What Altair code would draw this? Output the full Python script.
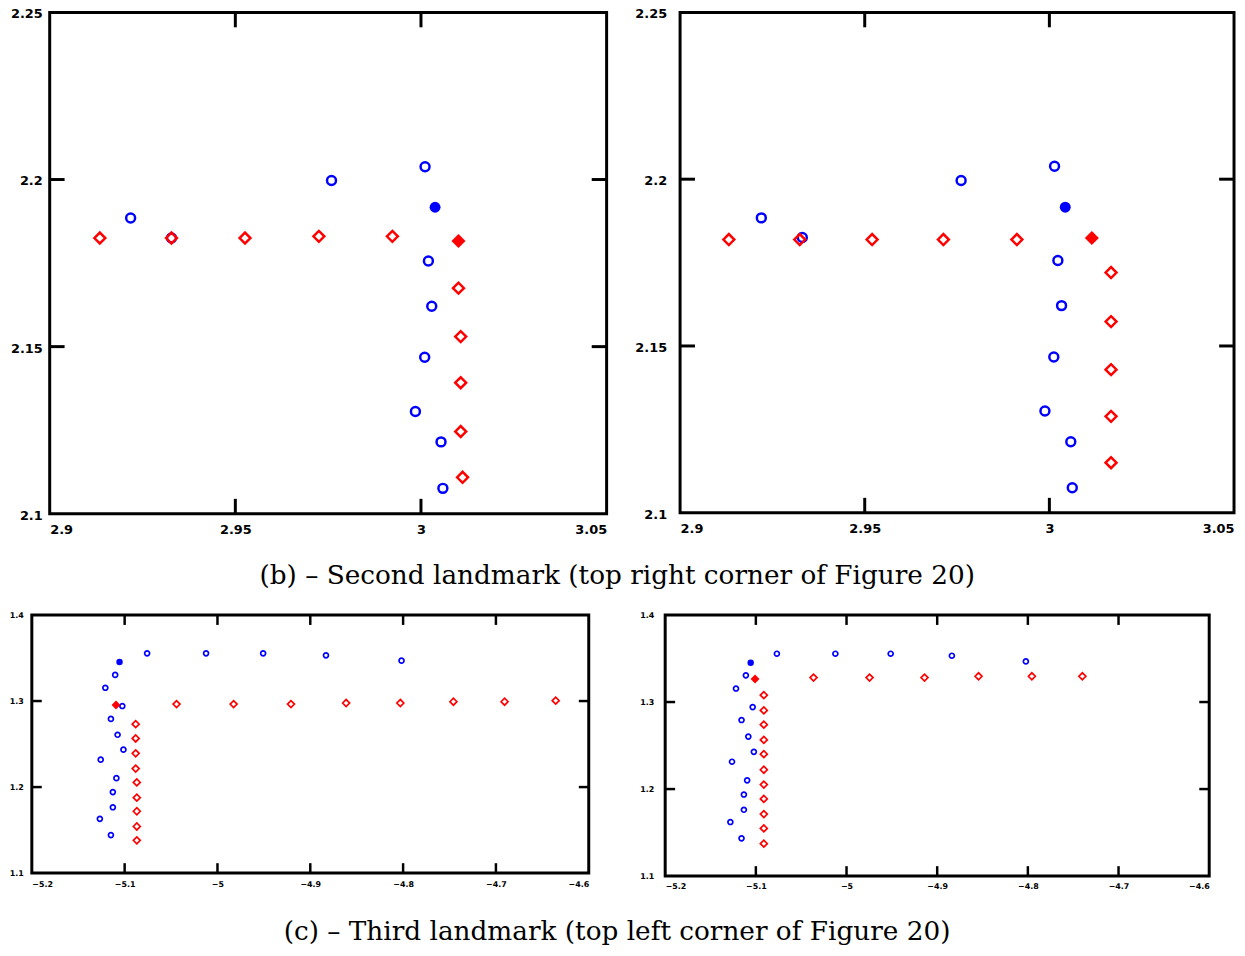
import altair as alt
import pandas as pd

# ---------------- data ----------------
# first point of each series is the filled (highlighted) marker
p1_blue_x = [3.0038, 2.9218, 2.9328, 2.9759, 3.0011, 3.0020, 3.0029, 3.0010, 2.9985, 3.0054, 3.0059]
p1_blue_y = [2.1917, 2.1885, 2.1825, 2.1997, 2.2038, 2.1756, 2.1621, 2.1468, 2.1306, 2.1215, 2.1076]
p1_red_x = [3.0101, 2.9135, 2.9328, 2.9526, 2.9725, 2.9923, 3.0101, 3.0107, 3.0107, 3.0107, 3.0112]
p1_red_y = [2.1816, 2.1825, 2.1825, 2.1825, 2.1830, 2.1830, 2.1675, 2.1530, 2.1392, 2.1246, 2.1109]

p2_blue_x = [3.0043, 2.9220, 2.9331, 2.9761, 3.0014, 3.0023, 3.0033, 3.0012, 2.9988, 3.0058, 3.0062]
p2_blue_y = [2.1916, 2.1884, 2.1825, 2.1996, 2.2039, 2.1756, 2.1621, 2.1467, 2.1305, 2.1213, 2.1075]
p2_red_x = [3.0115, 2.9132, 2.9324, 2.9520, 2.9713, 2.9912, 3.0167, 3.0167, 3.0167, 3.0167, 3.0167]
p2_red_y = [2.1824, 2.1819, 2.1819, 2.1819, 2.1819, 2.1819, 2.1720, 2.1573, 2.1429, 2.1289, 2.1150]

p3_blue_x = [-5.1055, -5.0758, -5.0123, -4.9508, -4.8831, -4.8017, -5.1102, -5.1208, -5.1025,
             -5.1148, -5.1076, -5.1013, -5.1258, -5.1089, -5.1127, -5.1127, -5.1267, -5.1148]
p3_blue_y = [1.3454, 1.3554, 1.3554, 1.3554, 1.3531, 1.3469, 1.3304, 1.3154, 1.2942,
             1.2792, 1.2608, 1.2435, 1.2319, 1.2104, 1.1942, 1.1765, 1.1631, 1.1442]
p3_red_x = [-5.1093, -5.0441, -4.9826, -4.9208, -4.8614, -4.8030, -4.7458, -4.6907, -4.6356,
            -5.0881, -5.0881, -5.0881, -5.0881, -5.0869, -5.0869, -5.0869, -5.0869, -5.0869]
p3_red_y = [1.2954, 1.2965, 1.2965, 1.2965, 1.2977, 1.2977, 1.2992, 1.2992, 1.3004,
            1.2731, 1.2565, 1.2392, 1.2215, 1.2054, 1.1877, 1.1719, 1.1542, 1.1381]

p4_blue_x = [-5.1057, -5.0768, -5.0123, -4.9513, -4.8838, -4.8022, -5.1110, -5.1219, -5.1035,
             -5.1158, -5.1083, -5.1022, -5.1263, -5.1096, -5.1132, -5.1132, -5.1281, -5.1158]
p4_blue_y = [1.3452, 1.3555, 1.3555, 1.3555, 1.3532, 1.3467, 1.3307, 1.3155, 1.2942,
             1.2793, 1.2603, 1.2428, 1.2314, 1.2100, 1.1937, 1.1762, 1.1621, 1.1434]
p4_red_x = [-5.1009, -5.0364, -4.9746, -4.9140, -4.8544, -4.7956, -4.7399,
            -5.0912, -5.0912, -5.0912, -5.0912, -5.0912, -5.0912, -5.0912, -5.0912, -5.0912, -5.0912,
            -5.0912]
p4_red_y = [1.3265, 1.3281, 1.3281, 1.3281, 1.3296, 1.3296, 1.3296,
            1.3079, 1.2904, 1.2740, 1.2565, 1.2401, 1.2222, 1.2051, 1.1887, 1.1712, 1.1548, 1.1373]

b_x_ticks = [2.9, 2.95, 3.0, 3.05]
b_y_ticks = [2.1, 2.15, 2.2, 2.25]
c_x_ticks = [-5.2, -5.1, -5.0, -4.9, -4.8, -4.7, -4.6]
c_y_ticks = [1.1, 1.2, 1.3, 1.4]

caption_b = "(b) \u2013 Second landmark (top right corner of Figure 20)"
caption_c = "(c) \u2013 Third landmark (top left corner of Figure 20)"

BLUE = "#0000ff"
RED = "#ff0000"
LABEL_FONT = "DejaVu Sans"
CAPTION_FONT = "DejaVu Serif"


def series_df(xs, ys):
    kinds = ["filled"] + ["open"] * (len(xs) - 1)
    return pd.DataFrame({"x": xs, "y": ys, "kind": kinds})


def scales(x_ticks, y_ticks):
    xs = alt.Scale(domain=[x_ticks[0], x_ticks[-1]], nice=False, zero=False)
    ys = alt.Scale(domain=[y_ticks[0], y_ticks[-1]], nice=False, zero=False)
    return xs, ys


def y_labels(y_ticks, w, h, big, pad):
    """Narrow view holding the y tick labels of the panel to its right."""
    _, ys = scales([0, 1], y_ticks)
    fs = 13 if big else 8
    return alt.Chart(pd.DataFrame({"v": y_ticks})).mark_text(
        align="right", baseline="middle", font=LABEL_FONT, fontWeight="bold",
        fontSize=fs, color="black", dy=2 if big else 1
    ).encode(
        y=alt.Y("v:Q", scale=ys, axis=None),
        x=alt.value(w - pad),
        text=alt.Text("v:Q", format="~g"),
    ).properties(width=w, height=h, view=alt.ViewBackground(stroke="transparent"))


def panel(bx, by, rx, ry, x_ticks, y_ticks, w, h, big):
    fs = 13 if big else 8
    tick_len = 15 if big else 10
    tick_w = 3 if big else 2.5
    circ, circ_f = (81, 121) if big else (25, 42)
    diam, diam_f = (121, 200) if big else (49, 80)
    sw = 2.5 if big else 1.7

    xs, ys = scales(x_ticks, y_ticks)
    xaxis = alt.Axis(values=x_ticks, format="~g", labelFlush=True, labelPadding=10 if big else 7,
                     ticks=False, domain=False, grid=False, labelFont=LABEL_FONT,
                     labelFontWeight="bold", labelFontSize=fs, labelColor="black", title=None)

    bdf = series_df(bx, by)
    rdf = series_df(rx, ry)

    def pts(df, kind, shape, color, size, filled):
        return alt.Chart(df).transform_filter(f"datum.kind == '{kind}'").mark_point(
            shape=shape, filled=filled, color=color, size=size,
            strokeWidth=sw, opacity=1
        ).encode(x=alt.X("x:Q", scale=xs, axis=xaxis), y=alt.Y("y:Q", scale=ys, axis=None))

    xin = pd.DataFrame({"v": x_ticks[1:-1]})
    yin = pd.DataFrame({"v": y_ticks[1:-1]})

    def rule(df):
        return alt.Chart(df).mark_rule(color="black", strokeWidth=tick_w)

    t_left = rule(yin).encode(y=alt.Y("v:Q", scale=ys, axis=None), x=alt.value(0), x2=alt.value(tick_len))
    t_right = rule(yin).encode(y=alt.Y("v:Q", scale=ys, axis=None), x=alt.value(w - tick_len), x2=alt.value(w))
    t_bot = rule(xin).encode(x=alt.X("v:Q", scale=xs, axis=xaxis), y=alt.value(h - tick_len), y2=alt.value(h))
    t_top = rule(xin).encode(x=alt.X("v:Q", scale=xs, axis=xaxis), y=alt.value(0), y2=alt.value(tick_len))

    return alt.layer(
        pts(bdf, "open", "circle", BLUE, circ, False),
        pts(rdf, "open", "diamond", RED, diam, False),
        pts(bdf, "filled", "circle", BLUE, circ_f, True),
        pts(rdf, "filled", "diamond", RED, diam_f, True),
        t_left, t_right, t_bot, t_top,
    ).properties(width=w, height=h)


p1 = panel(p1_blue_x, p1_blue_y, p1_red_x, p1_red_y, b_x_ticks, b_y_ticks, 561, 505, True)
p2 = panel(p2_blue_x, p2_blue_y, p2_red_x, p2_red_y, b_x_ticks, b_y_ticks, 558, 504, True)
p3 = panel(p3_blue_x, p3_blue_y, p3_red_x, p3_red_y, c_x_ticks, c_y_ticks, 561, 260, False)
p4 = panel(p4_blue_x, p4_blue_y, p4_red_x, p4_red_y, c_x_ticks, c_y_ticks, 548, 263, False)

l1 = y_labels(b_y_ticks, 33, 505, True, 2)
l2 = y_labels(b_y_ticks, 64, 504, True, 8)
l3 = y_labels(c_y_ticks, 15, 260, False, 3)
l4 = y_labels(c_y_ticks, 67, 263, False, 6)

cap = dict(orient="bottom", anchor="middle", font=CAPTION_FONT, fontSize=26.5,
           fontWeight="normal", color="black")

row1 = alt.hconcat(l1, p1, l2, p2, spacing=0).properties(
    title=alt.TitleParams(text=caption_b, offset=25, dx=-6, **cap))
row2 = alt.hconcat(l3, p3, l4, p4, spacing=0).properties(
    title=alt.TitleParams(text=caption_c, offset=27, dx=7, **cap))

chart = alt.vconcat(row1, row2, spacing=21).properties(
    padding={"left": 0, "top": -5, "right": 0, "bottom": 0}, background="white"
).configure_view(stroke="black", strokeWidth=3)

chart.save("out.html", embed_options={"renderer": "svg", "actions": False})
